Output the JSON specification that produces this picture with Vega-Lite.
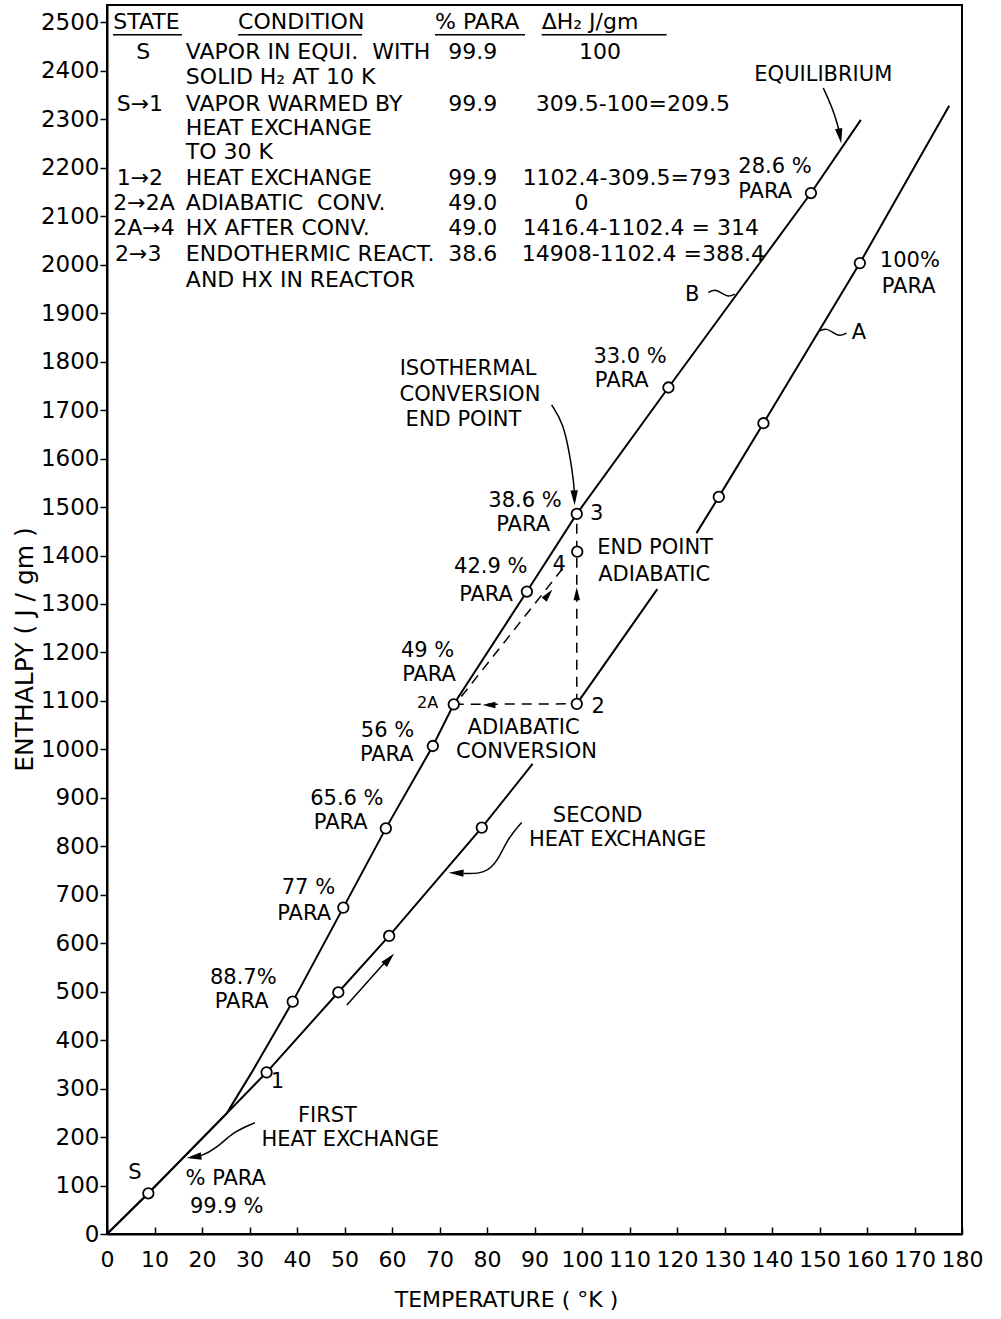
{
  "$schema": "https://vega.github.io/schema/vega-lite/v6.json",
  "width": 855,
  "height": 1229,
  "autosize": {"type": "none"},
  "padding": {"left": 107, "top": 5, "right": 39, "bottom": 85},
  "background": "white",
  "config": {
    "view": {"stroke": "black", "strokeWidth": 2},
    "font": "DejaVu Sans",
    "axis": {"domainColor": "black", "domainWidth": 2, "tickColor": "black", "tickWidth": 1.5, "labelColor": "black", "titleColor": "black", "labelFont": "DejaVu Sans", "titleFont": "DejaVu Sans", "titleFontWeight": "normal", "grid": false, "labelFlush": false, "labelOverlap": false}
  },
  "datasets": {
    "lineA": [
      {"seg": 1, "x": 0, "y": 0}, {"seg": 1, "x": 8.7, "y": 84}, {"seg": 1, "x": 25.2, "y": 249}, {"seg": 1, "x": 33.6, "y": 333.6}, {"seg": 1, "x": 48.7, "y": 498.8}, {"seg": 1, "x": 59.4, "y": 615}, {"seg": 1, "x": 78.9, "y": 838.6}, {"seg": 1, "x": 89.6, "y": 970},
      {"seg": 2, "x": 98.9, "y": 1094}, {"seg": 2, "x": 115.85, "y": 1330.7},
      {"seg": 3, "x": 124.1, "y": 1446.2}, {"seg": 3, "x": 128.8, "y": 1521}, {"seg": 3, "x": 138.2, "y": 1673}, {"seg": 3, "x": 158.5, "y": 2003.5}, {"seg": 3, "x": 177.3, "y": 2328}
    ],
    "lineB": [
      {"x": 0, "y": 0}, {"x": 8.7, "y": 84}, {"x": 25.2, "y": 249}, {"x": 30.5, "y": 334}, {"x": 39.1, "y": 479.5}, {"x": 49.75, "y": 673.5}, {"x": 58.7, "y": 837}, {"x": 68.6, "y": 1007}, {"x": 73.0, "y": 1093}, {"x": 88.4, "y": 1325.7}, {"x": 98.9, "y": 1486}, {"x": 118.2, "y": 1746.7}, {"x": 148.2, "y": 2148}, {"x": 158.7, "y": 2299}
    ],
    "dashed": [
      {"seg": "h", "x": 73.0, "y": 1093}, {"seg": "h", "x": 98.9, "y": 1094},
      {"seg": "v", "x": 98.9, "y": 1094}, {"seg": "v", "x": 98.9, "y": 1486},
      {"seg": "d", "x": 74.6, "y": 1109}, {"seg": "d", "x": 96.8, "y": 1384}
    ],
    "curves": [
      {"id": "eq", "x": 150.8, "y": 2364.7}, {"id": "eq", "x": 152.6, "y": 2326.7}, {"id": "eq", "x": 153.96, "y": 2285.4}, {"id": "eq", "x": 154.4, "y": 2262},
      {"id": "iso", "x": 93.6, "y": 1711.0}, {"id": "iso", "x": 96.06, "y": 1673.3}, {"id": "iso", "x": 97.5, "y": 1604.3}, {"id": "iso", "x": 98.3, "y": 1549.4}, {"id": "iso", "x": 98.45, "y": 1518},
      {"id": "first", "x": 31.16, "y": 229.7}, {"id": "first", "x": 26.6, "y": 211.1}, {"id": "first", "x": 23.1, "y": 176.9}, {"id": "first", "x": 19.6, "y": 159.5}, {"id": "first", "x": 18.0, "y": 158.5},
      {"id": "second", "x": 87.3, "y": 849}, {"id": "second", "x": 84.3, "y": 815}, {"id": "second", "x": 82.3, "y": 770}, {"id": "second", "x": 79.6, "y": 743}, {"id": "second", "x": 75.0, "y": 744},
      {"id": "alongA", "x": 50.5, "y": 472.7}, {"id": "alongA", "x": 58.9, "y": 565},
      {"id": "tildeB", "x": 126.6, "y": 1942.8}, {"id": "tildeB", "x": 128.0, "y": 1949.9}, {"id": "tildeB", "x": 129.4, "y": 1941.6}, {"id": "tildeB", "x": 130.8, "y": 1933.3}, {"id": "tildeB", "x": 132.2, "y": 1939.5},
      {"id": "tildeA", "x": 150.1, "y": 1863.8}, {"id": "tildeA", "x": 151.5, "y": 1869.3}, {"id": "tildeA", "x": 153.0, "y": 1859.0}, {"id": "tildeA", "x": 154.3, "y": 1852.0}, {"id": "tildeA", "x": 155.7, "y": 1859.0}
    ],
    "heads": [
      {"id": "h1", "x": 154.3, "y": 2266},
      {"id": "h2", "x": 98.4, "y": 1519.1},
      {"id": "h3", "x": 18.3, "y": 158.9},
      {"id": "h4", "x": 73.5, "y": 745.1},
      {"id": "h5", "x": 59.4, "y": 567.6},
      {"id": "h6", "x": 80.4, "y": 1091.8},
      {"id": "h7", "x": 98.9, "y": 1321},
      {"id": "h8", "x": 92.9, "y": 1319.5}
    ],
    "circles": [
      {"x": 8.7, "y": 84}, {"x": 33.6, "y": 333.6}, {"x": 39.1, "y": 479.5}, {"x": 48.7, "y": 498.8}, {"x": 49.75, "y": 673.5}, {"x": 59.4, "y": 615}, {"x": 58.7, "y": 837}, {"x": 68.6, "y": 1007}, {"x": 73.0, "y": 1093}, {"x": 78.9, "y": 838.6}, {"x": 98.9, "y": 1094}, {"x": 88.4, "y": 1325.7}, {"x": 99.0, "y": 1408}, {"x": 98.9, "y": 1486}, {"x": 118.2, "y": 1746.7}, {"x": 128.8, "y": 1521}, {"x": 138.2, "y": 1673}, {"x": 148.2, "y": 2148}, {"x": 158.5, "y": 2003.5}
    ],
    "underlines": [
      {"x": 1.26, "x2": 15.8, "y": 2474.7},
      {"x": 27.6, "x2": 53.7, "y": 2474.7},
      {"x": 69.05, "x2": 88.0, "y": 2474.7},
      {"x": 91.5, "x2": 117.8, "y": 2474.7}
    ],
    "tableL": [
      {"t": "STATE", "x": 1.33, "y": 2501.5},
      {"t": "CONDITION", "x": 27.6, "y": 2501.5},
      {"t": "% PARA", "x": 69.05, "y": 2501.5},
      {"t": "ΔH₂ J/gm", "x": 91.5, "y": 2501.5},
      {"t": "VAPOR IN EQUI.\u00a0\u00a0WITH", "x": 16.6, "y": 2439.6},
      {"t": "99.9", "x": 71.85, "y": 2439.6},
      {"t": "SOLID H₂ AT 10 K", "x": 16.6, "y": 2388.0},
      {"t": "S→1", "x": 2.04, "y": 2332.3},
      {"t": "VAPOR WARMED BY", "x": 16.6, "y": 2332.3},
      {"t": "99.9", "x": 71.85, "y": 2332.3},
      {"t": "309.5-100=209.5", "x": 90.25, "y": 2332.3},
      {"t": "HEAT EXCHANGE", "x": 16.6, "y": 2282.8},
      {"t": "TO 30 K", "x": 16.6, "y": 2233.2},
      {"t": "1→2", "x": 2.04, "y": 2179.6},
      {"t": "HEAT EXCHANGE", "x": 16.6, "y": 2179.6},
      {"t": "99.9", "x": 71.85, "y": 2179.6},
      {"t": "1102.4-309.5=793", "x": 87.5, "y": 2179.6},
      {"t": "2→2A", "x": 1.33, "y": 2128.0},
      {"t": "ADIABATIC\u00a0\u00a0CONV.", "x": 16.6, "y": 2128.0},
      {"t": "49.0", "x": 71.85, "y": 2128.0},
      {"t": "2A→4", "x": 1.33, "y": 2076.4},
      {"t": "HX AFTER CONV.", "x": 16.6, "y": 2076.4},
      {"t": "49.0", "x": 71.85, "y": 2076.4},
      {"t": "1416.4-1102.4 = 314", "x": 87.5, "y": 2076.4},
      {"t": "2→3", "x": 1.68, "y": 2022.7},
      {"t": "ENDOTHERMIC REACT.", "x": 16.6, "y": 2022.7},
      {"t": "38.6", "x": 71.85, "y": 2022.7},
      {"t": "14908-1102.4 =388.4", "x": 87.3, "y": 2022.7},
      {"t": "AND HX IN REACTOR", "x": 16.6, "y": 1969.0}
    ],
    "tableC": [
      {"t": "S", "x": 7.65, "y": 2439.6},
      {"t": "100", "x": 103.8, "y": 2439.6},
      {"t": "0", "x": 99.9, "y": 2128.0}
    ],
    "labelL": [
      {"t": "28.6 %", "x": 132.9, "y": 2201.0},
      {"t": "PARA", "x": 132.9, "y": 2150.0},
      {"t": "100%", "x": 162.7, "y": 2008.0},
      {"t": "PARA", "x": 163.1, "y": 1954.0},
      {"t": "33.0 %", "x": 102.4, "y": 1810.0},
      {"t": "PARA", "x": 102.7, "y": 1760.0},
      {"t": "END POINT", "x": 103.2, "y": 1415.9},
      {"t": "ADIABATIC", "x": 103.4, "y": 1360.2},
      {"t": "3", "x": 101.7, "y": 1486.1},
      {"t": "2", "x": 102.0, "y": 1088.3},
      {"t": "B", "x": 121.7, "y": 1938.1},
      {"t": "A", "x": 156.8, "y": 1859.0}
    ],
    "labelC": [
      {"t": "EQUILIBRIUM", "x": 150.8, "y": 2392.2},
      {"t": "ISOTHERMAL", "x": 76.0, "y": 1784.5},
      {"t": "CONVERSION", "x": 76.4, "y": 1731.7},
      {"t": "END POINT", "x": 75.05, "y": 1679.0},
      {"t": "38.6 %", "x": 88.0, "y": 1512.0},
      {"t": "PARA", "x": 87.6, "y": 1462.0},
      {"t": "42.9 %", "x": 80.8, "y": 1375.5},
      {"t": "PARA", "x": 79.8, "y": 1318.0},
      {"t": "49 %", "x": 67.5, "y": 1203.0},
      {"t": "PARA", "x": 67.8, "y": 1153.0},
      {"t": "56 %", "x": 59.05, "y": 1037.0},
      {"t": "PARA", "x": 58.9, "y": 988.0},
      {"t": "ADIABATIC", "x": 87.7, "y": 1044.5},
      {"t": "CONVERSION", "x": 88.3, "y": 994.5},
      {"t": "65.6 %", "x": 50.5, "y": 898.0},
      {"t": "PARA", "x": 49.2, "y": 849.0},
      {"t": "77 %", "x": 42.4, "y": 714.5},
      {"t": "PARA", "x": 41.5, "y": 661.0},
      {"t": "88.7%", "x": 28.7, "y": 529.0},
      {"t": "PARA", "x": 28.35, "y": 478.5},
      {"t": "FIRST", "x": 46.4, "y": 243.0},
      {"t": "HEAT EXCHANGE", "x": 51.2, "y": 193.0},
      {"t": "S", "x": 5.9, "y": 126.5},
      {"t": "% PARA", "x": 25.0, "y": 112.5},
      {"t": "99.9 %", "x": 25.2, "y": 55.5},
      {"t": "SECOND", "x": 103.3, "y": 862.5},
      {"t": "HEAT EXCHANGE", "x": 107.5, "y": 812.0},
      {"t": "1", "x": 35.9, "y": 314.3},
      {"t": "4", "x": 95.2, "y": 1380.8}
    ],
    "small": [
      {"t": "2A", "x": 67.5, "y": 1095.3}
    ]
  },
  "encoding": {
    "x": {
      "field": "x", "type": "quantitative",
      "scale": {"domain": [0, 180], "nice": false, "zero": false},
      "axis": {"title": "TEMPERATURE ( °K )", "format": "d", "values": [0, 10, 20, 30, 40, 50, 60, 70, 80, 90, 100, 110, 120, 130, 140, 150, 160, 170, 180], "tickSize": -7, "labelFontSize": 22, "labelPadding": 22, "titleFontSize": 22, "titleX": 399, "titleY": 72, "titleBaseline": "alphabetic", "titleAlign": "center"}
    },
    "y": {
      "field": "y", "type": "quantitative",
      "scale": {"domain": [0, 2536], "nice": false},
      "axis": {"title": "ENTHALPY ( J / gm )", "format": "d", "values": [0, 100, 200, 300, 400, 500, 600, 700, 800, 900, 1000, 1100, 1200, 1300, 1400, 1500, 1600, 1700, 1800, 1900, 2000, 2100, 2200, 2300, 2400, 2500], "tickSize": 7, "labelPadding": 1, "labelFontSize": 23, "titleFontSize": 25, "titleX": -75, "titleY": 644, "titleAngle": -90, "titleBaseline": "alphabetic", "titleAlign": "center"}
    }
  },
  "layer": [
    {"data": {"name": "lineA"}, "mark": {"type": "line", "color": "black", "strokeWidth": 2}, "encoding": {"detail": {"field": "seg"}}},
    {"data": {"name": "lineB"}, "mark": {"type": "line", "color": "black", "strokeWidth": 2}, "encoding": {}},
    {"data": {"name": "dashed"}, "mark": {"type": "line", "color": "black", "strokeWidth": 1.5, "strokeDash": [10, 7]}, "encoding": {"detail": {"field": "seg"}}},
    {"data": {"name": "curves"}, "mark": {"type": "line", "color": "black", "strokeWidth": 1.5, "interpolate": "basis"}, "encoding": {"detail": {"field": "id"}}},
    {"data": {"name": "heads"}, "transform": [{"filter": "datum.id == 'h1'"}], "mark": {"type": "point", "shape": "M0,-1L0.5,1L-0.5,1Z", "filled": true, "color": "black", "opacity": 1, "size": 220, "angle": 170}},
    {"data": {"name": "heads"}, "transform": [{"filter": "datum.id == 'h2'"}], "mark": {"type": "point", "shape": "M0,-1L0.5,1L-0.5,1Z", "filled": true, "color": "black", "opacity": 1, "size": 220, "angle": 178}},
    {"data": {"name": "heads"}, "transform": [{"filter": "datum.id == 'h3'"}], "mark": {"type": "point", "shape": "M0,-1L0.5,1L-0.5,1Z", "filled": true, "color": "black", "opacity": 1, "size": 220, "angle": 262}},
    {"data": {"name": "heads"}, "transform": [{"filter": "datum.id == 'h4'"}], "mark": {"type": "point", "shape": "M0,-1L0.5,1L-0.5,1Z", "filled": true, "color": "black", "opacity": 1, "size": 220, "angle": 272}},
    {"data": {"name": "heads"}, "transform": [{"filter": "datum.id == 'h5'"}], "mark": {"type": "point", "shape": "M0,-1L0.5,1L-0.5,1Z", "filled": true, "color": "black", "opacity": 1, "size": 220, "angle": 42}},
    {"data": {"name": "heads"}, "transform": [{"filter": "datum.id == 'h6'"}], "mark": {"type": "point", "shape": "M0,-1L0.5,1L-0.5,1Z", "filled": true, "color": "black", "opacity": 1, "size": 170, "angle": 270}},
    {"data": {"name": "heads"}, "transform": [{"filter": "datum.id == 'h7'"}], "mark": {"type": "point", "shape": "M0,-1L0.5,1L-0.5,1Z", "filled": true, "color": "black", "opacity": 1, "size": 170, "angle": 0}},
    {"data": {"name": "heads"}, "transform": [{"filter": "datum.id == 'h8'"}], "mark": {"type": "point", "shape": "M0,-1L0.5,1L-0.5,1Z", "filled": true, "color": "black", "opacity": 1, "size": 170, "angle": 39}},
    {"data": {"name": "circles"}, "mark": {"type": "point", "shape": "circle", "filled": true, "fill": "white", "stroke": "black", "strokeWidth": 1.8, "size": 110, "opacity": 1}},
    {"data": {"name": "underlines"}, "mark": {"type": "rule", "color": "black", "strokeWidth": 1.5}, "encoding": {"x2": {"field": "x2"}}},
    {"data": {"name": "tableL"}, "mark": {"type": "text", "align": "left", "baseline": "middle", "font": "DejaVu Sans", "fontSize": 22, "color": "black"}, "encoding": {"text": {"field": "t"}}},
    {"data": {"name": "tableC"}, "mark": {"type": "text", "align": "center", "baseline": "middle", "font": "DejaVu Sans", "fontSize": 22, "color": "black"}, "encoding": {"text": {"field": "t"}}},
    {"data": {"name": "labelL"}, "mark": {"type": "text", "align": "left", "baseline": "middle", "font": "DejaVu Sans", "fontSize": 21, "color": "black"}, "encoding": {"text": {"field": "t"}}},
    {"data": {"name": "labelC"}, "mark": {"type": "text", "align": "center", "baseline": "middle", "font": "DejaVu Sans", "fontSize": 21, "color": "black"}, "encoding": {"text": {"field": "t"}}},
    {"data": {"name": "small"}, "mark": {"type": "text", "align": "center", "baseline": "middle", "font": "DejaVu Sans", "fontSize": 16, "color": "black"}, "encoding": {"text": {"field": "t"}}}
  ]
}
